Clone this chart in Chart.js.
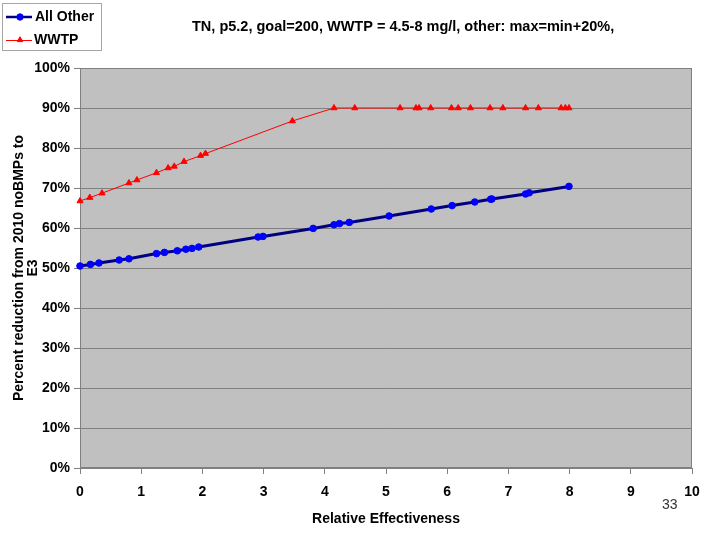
<!DOCTYPE html>
<html>
<head>
<meta charset="utf-8">
<script src="https://cdn.jsdelivr.net/npm/chart.js@4.4.1/dist/chart.umd.min.js"></script>
<style>
html, body { margin: 0; padding: 0; background: #ffffff; }
#wrap { width: 720px; height: 540px; position: relative; }
</style>
</head>
<body>
<div id="wrap"><canvas id="c" width="720" height="540"></canvas></div>
<script>
// ---- data ----
const chartTitle = 'TN, p5.2, goal=200, WWTP = 4.5-8 mg/l, other: max=min+20%,';
const xAxisTitle = 'Relative Effectiveness';
const yAxisTitle = ['Percent reduction from 2010 noBMPs to', 'E3'];
const pageNumber = '33';
const seriesNames = ['All Other', 'WWTP'];

const allOtherX = [0, 0.17, 0.31, 0.64, 0.80, 1.25, 1.38, 1.59, 1.73, 1.83, 1.94, 2.91, 2.99,
                   3.81, 4.15, 4.24, 4.40, 5.05, 5.74, 6.08, 6.45, 6.71, 6.73, 7.28, 7.34, 7.99];
const allOtherY = [50.5, 50.9, 51.25, 52.0, 52.3, 53.6, 53.9, 54.3, 54.7, 54.9, 55.25, 57.75, 57.9,
                   59.9, 60.8, 61.1, 61.4, 63.0, 64.75, 65.6, 66.5, 67.2, 67.25, 68.5, 68.8, 70.4];

const wwtpX = [0, 0.16, 0.36, 0.80, 0.93, 1.25, 1.44, 1.54, 1.70, 1.97, 2.05, 3.47,
               4.15, 4.49, 5.23, 5.49, 5.54, 5.73, 6.07, 6.18, 6.38, 6.70, 6.91, 7.28, 7.49, 7.86, 7.93, 7.99];
const wwtpY = [66.75, 67.6, 68.7, 71.25, 72.0, 73.8, 75.0, 75.4, 76.6, 78.1, 78.6, 86.75,
               90, 90, 90, 90, 90, 90, 90, 90, 90, 90, 90, 90, 90, 90, 90, 90];

const xTickValues = [0, 1, 2, 3, 4, 5, 6, 7, 8, 9, 10];
const xTickLabels = ['0', '1', '2', '3', '4', '5', '6', '7', '8', '9', '10'];
const yTickValues = [0, 10, 20, 30, 40, 50, 60, 70, 80, 90, 100];
const yTickLabels = ['0%', '10%', '20%', '30%', '40%', '50%', '60%', '70%', '80%', '90%', '100%'];

// ---- styles ----
const FONT = '"Liberation Sans", Arial, Helvetica, sans-serif';
const BLUE_LINE = '#000080';
const BLUE_MARK = '#0000FF';
const RED = '#FF0000';
const GRID = '#808080';

function toPoints(xs, ys) { return xs.map((x, i) => ({ x: x, y: ys[i] })); }

function drawMarker(ctx, style, x, y, r, fill) {
  ctx.save();
  ctx.fillStyle = fill;
  ctx.strokeStyle = fill;
  ctx.lineWidth = 1;
  if (window.Chart && Chart.helpers && Chart.helpers.drawPoint) {
    Chart.helpers.drawPoint(ctx, { pointStyle: style, radius: r, rotation: 0, borderWidth: 1 }, x, y);
  } else {
    ctx.beginPath();
    if (style === 'circle') {
      ctx.arc(x, y, r, 0, Math.PI * 2);
    } else {
      ctx.moveTo(x, y - r);
      ctx.lineTo(x + r * 0.866, y + r / 2);
      ctx.lineTo(x - r * 0.866, y + r / 2);
      ctx.closePath();
    }
    ctx.fill();
    ctx.stroke();
  }
  ctx.restore();
}

const plotFrame = {
  id: 'plotFrame',
  beforeDraw(chart) {
    const { ctx, chartArea: a } = chart;
    ctx.save();
    ctx.fillStyle = '#C0C0C0';
    ctx.fillRect(a.left, a.top, a.right - a.left, a.bottom - a.top);
    ctx.restore();
  },
  beforeDatasetsDraw(chart) {
    const { ctx, chartArea: a } = chart;
    ctx.save();
    ctx.strokeStyle = GRID;
    ctx.lineWidth = 1;
    ctx.strokeRect(Math.round(a.left) + 0.5, Math.round(a.top) + 0.5,
                   Math.round(a.right - a.left) - 1, Math.round(a.bottom - a.top) - 1);
    ctx.restore();
  }
};

const annotations = {
  id: 'annotations',
  afterDraw(chart) {
    const ctx = chart.ctx;
    ctx.save();
    // legend box
    ctx.fillStyle = '#FFFFFF';
    ctx.fillRect(2, 3, 99, 47);
    ctx.strokeStyle = '#A6A6A6';
    ctx.lineWidth = 1;
    ctx.strokeRect(2.5, 3.5, 99, 47);
    // entry 1
    ctx.strokeStyle = BLUE_LINE;
    ctx.lineWidth = 2.5;
    ctx.beginPath(); ctx.moveTo(6, 17); ctx.lineTo(32, 17); ctx.stroke();
    drawMarker(ctx, 'circle', 20, 17, 3.2, BLUE_MARK);
    // entry 2
    ctx.strokeStyle = RED;
    ctx.lineWidth = 1;
    ctx.beginPath(); ctx.moveTo(6, 40.5); ctx.lineTo(32, 40.5); ctx.stroke();
    drawMarker(ctx, 'triangle', 20, 40, 3.2, RED);
    ctx.fillStyle = '#000000';
    ctx.font = 'bold 14px ' + FONT;
    ctx.textBaseline = 'middle';
    ctx.textAlign = 'left';
    ctx.fillText(seriesNames[0], 35, 17);
    ctx.fillText(seriesNames[1], 34, 40);
    // title
    ctx.font = 'bold 14.5px ' + FONT;
    ctx.fillText(chartTitle, 192, 27);
    // page number
    ctx.fillStyle = '#333333';
    ctx.font = '14px ' + FONT;
    ctx.fillText(pageNumber, 662, 505);
    ctx.restore();
  }
};

Chart.defaults.font.family = FONT;
Chart.defaults.color = '#000000';

new Chart(document.getElementById('c'), {
  type: 'scatter',
  data: {
    datasets: [
      {
        label: seriesNames[0],
        data: toPoints(allOtherX, allOtherY),
        showLine: true,
        borderColor: BLUE_LINE,
        borderWidth: 3,
        pointStyle: 'circle',
        pointRadius: 3.3,
        pointBorderWidth: 1,
        pointBackgroundColor: BLUE_MARK,
        pointBorderColor: BLUE_MARK,
        tension: 0,
        clip: false
      },
      {
        label: seriesNames[1],
        data: toPoints(wwtpX, wwtpY),
        showLine: true,
        borderColor: RED,
        borderWidth: 1,
        pointStyle: 'triangle',
        pointRadius: 3.5,
        pointBorderWidth: 1,
        pointBackgroundColor: RED,
        pointBorderColor: RED,
        tension: 0,
        clip: false
      }
    ]
  },
  options: {
    responsive: false,
    animation: false,
    devicePixelRatio: 1,
    layout: { padding: { left: 0, right: 28, top: 68, bottom: 8.6 } },
    plugins: {
      legend: { display: false },
      title: { display: false },
      tooltip: { enabled: false }
    },
    scales: {
      x: {
        type: 'linear',
        min: 0,
        max: 10,
        afterBuildTicks: (s) => { s.ticks = xTickValues.map(v => ({ value: v })); },
        ticks: {
          callback: (v, i) => xTickLabels[i],
          font: { size: 14, weight: 'bold' },
          color: '#000000',
          padding: 10,
          maxRotation: 0,
          autoSkip: false
        },
        grid: { display: true, drawOnChartArea: false, drawTicks: true, tickLength: 6, color: GRID },
        border: { display: true, color: GRID },
        title: {
          display: true,
          text: xAxisTitle,
          font: { size: 14, weight: 'bold' },
          color: '#000000',
          padding: { top: 4, bottom: 4 }
        },
        afterFit: (s) => { s.height = 63.4; }
      },
      y: {
        type: 'linear',
        min: 0,
        max: 100,
        afterBuildTicks: (s) => { s.ticks = yTickValues.map(v => ({ value: v })); },
        ticks: {
          callback: (v, i) => yTickLabels[i],
          font: { size: 14, weight: 'bold' },
          color: '#000000',
          padding: 4,
          autoSkip: false
        },
        grid: { display: true, drawTicks: true, tickLength: 6, color: GRID },
        border: { display: true, color: GRID },
        title: {
          display: true,
          text: yAxisTitle,
          font: { size: 14, weight: 'bold', lineHeight: 1 },
          color: '#000000',
          padding: { top: 12, bottom: 0 }
        },
        afterFit: (s) => { s.width = 80; }
      }
    }
  },
  plugins: [plotFrame, annotations]
});
</script>
</body>
</html>
